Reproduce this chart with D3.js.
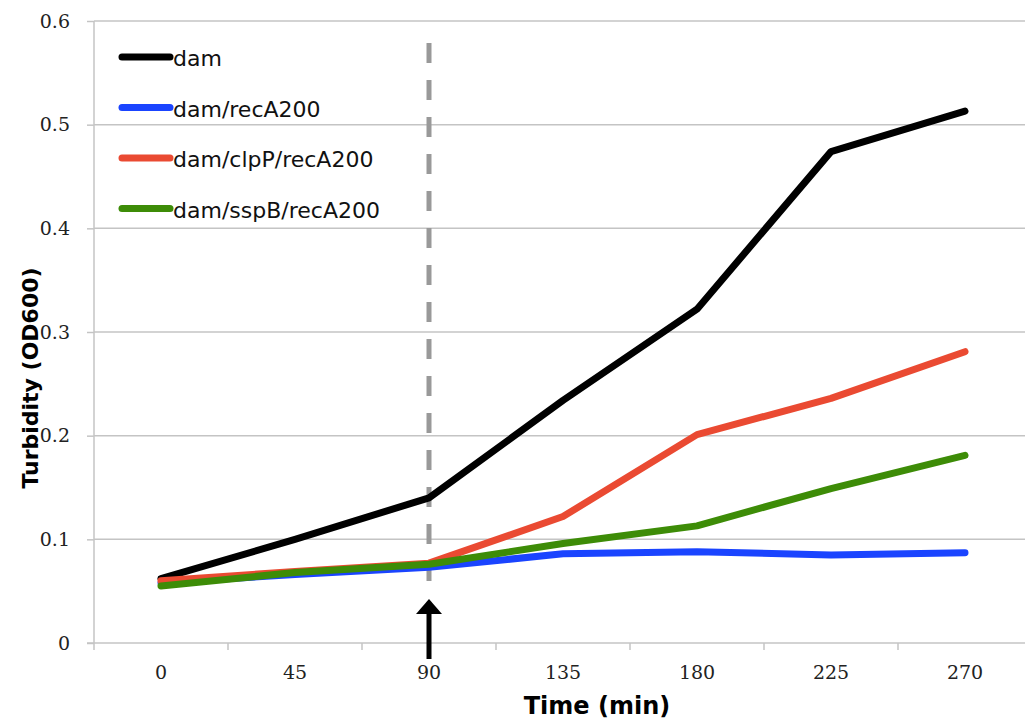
<!DOCTYPE html>
<html>
<head>
<meta charset="utf-8">
<script src="https://cdn.jsdelivr.net/npm/d3@7"></script>
<style>
  body { margin: 0; background: #fff; }
  svg { display: block; }
  .tick-label { font-family: "DejaVu Serif", serif; font-size: 19px; fill: #222; }
  .legend-text { font-family: "DejaVu Sans", sans-serif; font-size: 22px; fill: #111; }
  .axis-title { font-family: "DejaVu Sans", sans-serif; font-weight: bold; fill: #000; }
</style>
</head>
<body>
<script>
// data
var times = ["0", "45", "90", "135", "180", "225", "270"];
var seriesNames = ["dam", "dam/recA200", "dam/clpP/recA200", "dam/sspB/recA200"];
var seriesColors = ["#000000", "#1a44ff", "#ea4a32", "#3d8c07"];
var dam       = [0.062, 0.100, 0.140, 0.234, 0.322, 0.474, 0.513];
var damRecA   = [0.058, 0.066, 0.073, 0.086, 0.088, 0.085, 0.087];
var damClpP   = [0.060, 0.069, 0.077, 0.122, 0.201, 0.236, 0.281];
var damSspB   = [0.055, 0.068, 0.076, 0.096, 0.113, 0.149, 0.181];
var yTicks = [0, 0.1, 0.2, 0.3, 0.4, 0.5, 0.6];
var markerTime = "90";

var allSeries = [dam, damRecA, damClpP, damSspB];

var width = 1025, height = 719;
var margin = {top: 21, left: 94, bottom: 76};
var plotRight = 1032;

var svg = d3.select("body").append("svg")
  .attr("width", width)
  .attr("height", height);

var x = d3.scaleBand()
  .domain(times)
  .range([margin.left, plotRight])
  .padding(0);

var y = d3.scaleLinear()
  .domain([0, 0.6])
  .range([height - margin.bottom, margin.top]);

var cx = function(t) { return x(t) + x.bandwidth() / 2; };

// gridlines
svg.append("g").selectAll("line")
  .data(yTicks.slice(1))
  .enter().append("line")
  .attr("x1", margin.left)
  .attr("x2", plotRight)
  .attr("y1", function(d) { return y(d); })
  .attr("y2", function(d) { return y(d); })
  .attr("stroke", "#c4c4c4")
  .attr("stroke-width", 1.5);

// y axis
var yAxis = d3.axisLeft(y).tickValues(yTicks).tickSize(7).tickPadding(17)
  .tickFormat(function(d) { return d === 0 ? "0" : d3.format(".1f")(d); });
var gy = svg.append("g")
  .attr("transform", "translate(" + margin.left + ",0)")
  .call(yAxis);
gy.select(".domain").remove();
gy.selectAll(".tick line").attr("stroke", "#c4c4c4").attr("stroke-width", 1.5);
gy.selectAll(".tick text").attr("class", "tick-label").attr("font-family", null).attr("font-size", null);
gy.append("line")
  .attr("x1", 0).attr("x2", 0)
  .attr("y1", margin.top).attr("y2", y(0) + 7)
  .attr("stroke", "#c4c4c4").attr("stroke-width", 1.5);

// x axis: labels at band centres, ticks at band edges
var xAxis = d3.axisBottom(x).tickSize(0).tickPadding(23);
var gx = svg.append("g")
  .attr("transform", "translate(0," + y(0) + ")")
  .call(xAxis);
gx.select(".domain").remove();
gx.selectAll(".tick text").attr("class", "tick-label").attr("font-family", null).attr("font-size", null);
gx.append("line")
  .attr("x1", margin.left - 7).attr("x2", plotRight)
  .attr("y1", 0).attr("y2", 0)
  .attr("stroke", "#c4c4c4").attr("stroke-width", 1.5);
gx.selectAll(".edge")
  .data(times.slice(1))
  .enter().append("line")
  .attr("class", "edge")
  .attr("x1", function(d) { return x(d); })
  .attr("x2", function(d) { return x(d); })
  .attr("y1", 0).attr("y2", 7)
  .attr("stroke", "#c4c4c4").attr("stroke-width", 1.5);

// dashed marker at 90 min
svg.append("line")
  .attr("x1", cx(markerTime)).attr("x2", cx(markerTime))
  .attr("y1", 43).attr("y2", 588)
  .attr("stroke", "#999")
  .attr("stroke-width", 5)
  .attr("stroke-dasharray", "20,17");

// series
var line = d3.line()
  .x(function(d, i) { return cx(times[i]); })
  .y(function(d) { return y(d); });

svg.append("g").selectAll("path")
  .data(allSeries)
  .enter().append("path")
  .attr("d", line)
  .attr("fill", "none")
  .attr("stroke", function(d, i) { return seriesColors[i]; })
  .attr("stroke-width", 7)
  .attr("stroke-linejoin", "round")
  .attr("stroke-linecap", "round");

// arrow under the marker
var ax = cx(markerTime);
svg.append("line")
  .attr("x1", ax).attr("x2", ax)
  .attr("y1", 610).attr("y2", 659)
  .attr("stroke", "#000").attr("stroke-width", 5);
svg.append("path")
  .attr("d", "M" + (ax - 13) + ",614 L" + ax + ",599 L" + (ax + 13) + ",614 Z")
  .attr("fill", "#000");

// legend
var legend = svg.append("g").selectAll("g")
  .data(seriesNames)
  .enter().append("g")
  .attr("transform", function(d, i) { return "translate(122," + (57 + i * 50.5) + ")"; });
legend.append("line")
  .attr("x1", 0).attr("x2", 48)
  .attr("stroke", function(d, i) { return seriesColors[i]; })
  .attr("stroke-width", 7)
  .attr("stroke-linecap", "round");
legend.append("text")
  .attr("class", "legend-text")
  .attr("x", 51)
  .attr("y", 9)
  .text(function(d) { return d; });

// axis titles
svg.append("text")
  .attr("class", "axis-title")
  .attr("x", 597)
  .attr("y", 714)
  .attr("text-anchor", "middle")
  .attr("font-size", 24)
  .text("Time (min)");

svg.append("text")
  .attr("class", "axis-title")
  .attr("transform", "translate(38,378) rotate(-90)")
  .attr("text-anchor", "middle")
  .attr("font-size", 22)
  .text("Turbidity (OD600)");
</script>
</body>
</html>
